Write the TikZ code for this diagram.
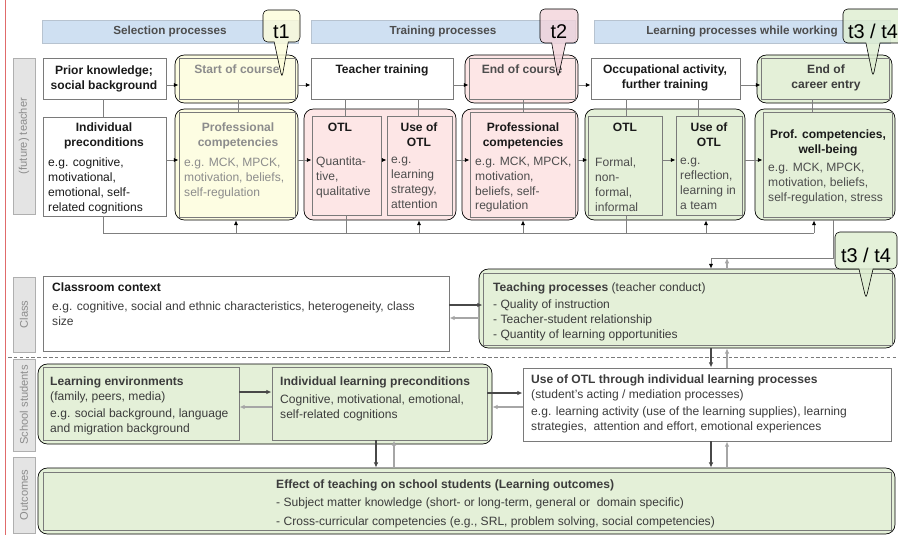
\documentclass[tikz,border=0pt]{standalone}
\usepackage{fontspec}
\setmainfont{Liberation Sans}
\usetikzlibrary{fit, arrows.meta, shapes.callouts}
\definecolor{hdrblue}{HTML}{CFE0F2}
\definecolor{yelfill}{HTML}{FDFDE2}
\definecolor{pinkfill}{HTML}{FDE6E6}
\definecolor{grnfill}{HTML}{E4F0D8}
\definecolor{stripgray}{HTML}{E4E4E4}
\definecolor{boxgray}{HTML}{7A7A7A}
\definecolor{linegray}{HTML}{7F7F7F}
\definecolor{backgray}{HTML}{A6A6A6}
\definecolor{txtdark}{HTML}{1A1A1A}
\definecolor{txtmid}{HTML}{4D4D4D}
\definecolor{txtpale}{HTML}{8C8C8C}
\definecolor{redline}{HTML}{E06B6B}
\definecolor{tonefill}{HTML}{FCFCD9}
\definecolor{ttwofill}{HTML}{F2D3DA}
\definecolor{tthreefill}{HTML}{DDEDD0}
\tikzset{
  lane/.style={draw=boxgray!60, fill=stripgray, line width=0.6pt, inner sep=0pt},
  lanetext/.style={rotate=90, text=txtpale, font=\fontsize{9.5}{11}\selectfont},
  hdr/.style={draw=hdrblue!70!gray, fill=hdrblue, line width=0.4pt, inner sep=0pt},
  hdrtext/.style={text=txtmid, font=\fontsize{10}{11}\selectfont\bfseries},
  box/.style={draw=boxgray, line width=0.8pt, inner sep=0pt},
  grp/.style={draw=black, line width=0.6pt, rounded corners=8pt, inner sep=0pt},
  ttl/.style={font=\bfseries, align=center, anchor=north, inner sep=0pt, text=txtdark},
  body/.style={align=left, anchor=north west, inner sep=0pt, text=txtmid},
  link/.style={draw=linegray, line width=0.8pt},
  flow/.style={link, -{Latex[length=4pt,width=3.6pt,color=black]}},
  push/.style={draw=txtdark!80, line width=0.9pt, -{Latex[length=4.5pt,width=4pt]}},
  back/.style={draw=backgray, line width=0.9pt, -{Latex[length=4.5pt,width=4pt]}},
  tmark/.style={rectangle callout, draw=black, line width=0.5pt, rounded corners=4pt,
    fill opacity=0.8, text opacity=1, inner sep=0pt, callout pointer width=12pt,
    font=\fontsize{17}{19}\selectfont, text height=21pt, text depth=0pt}
}
\begin{document}
\fontsize{10.3}{12.6}\selectfont
\begin{tikzpicture}[x=0.03cm, y=-0.03cm]
\useasboundingbox (0,0) rectangle (898,535);
\clip (0,0) rectangle (898,535);

% margin line
\draw[redline, line width=0.8pt] (5,0) -- (5,535);

% lanes on the left
\node[lane, fit={(13,58)(35,214)}] (laneT) {};
\node[lane, fit={(13,277)(35,352)}] (laneC) {};
\node[lane, fit={(13,359)(35,451)}] (laneS) {};
\node[lane, fit={(13,457)(35,533)}] (laneO) {};
\foreach \n/\t in {laneT/(future) teacher, laneC/Class, laneS/School students, laneO/Outcomes}
  \node[lanetext] (\n T) at (\n.center) {\t};

% phase headers
\node[hdr, fit={(42,20)(298,43)}] (hSel) {};
\node[hdr, fit={(311,20)(575,43)}] (hTrain) {};
\node[hdr, fit={(594,20)(890,43)}] (hWork) {};
\node[hdrtext] (hSelT) at (hSel.center) {Selection processes};
\node[hdrtext] (hTrainT) at (hTrain.center) {Training processes};
\node[hdrtext] (hWorkT) at (hWork.center) {Learning processes while working};

% separator teacher/class vs. students
\draw[boxgray, line width=0.6pt, dash pattern=on 3pt off 2pt] (8,357) -- (898,357);

% ---------------- teacher: top row ----------------
\node[box, fill=white, fit={(43,58)(166,99)}] (prior) {};
\node[grp, fill=yelfill, fit={(175,55)(298,103)}] (startG) {};
\node[box, fill=yelfill, fit={(179,58)(295,99)}] (start) {};
\node[box, fill=white, fit={(311,58)(453,99)}] (train) {};
\node[grp, fill=pinkfill, fit={(465,55)(578,103)}] (endG) {};
\node[box, fill=pinkfill, fit={(469,58)(575,99)}] (endc) {};
\node[box, fill=white, fit={(591,58)(740,99)}] (occup) {};
\node[grp, fill=grnfill, fit={(757,55)(892,103)}] (careerG) {};
\node[box, fill=grnfill, fit={(761,58)(889,99)}] (career) {};

\node[ttl] (priorT) at (104,66) {Prior knowledge;\\social background};
\node[ttl, text=txtpale] (startT) at (237,65) {Start of course};
\node[ttl] (trainT) at (382,65) {Teacher training};
\node[ttl, text=txtmid] (endcT) at (522,65) {End of course};
\node[ttl] (occupT) at (665,65) {Occupational activity,\\further training};
\node[ttl, text=txtdark!85] (careerT) at (826,65) {End of\\career entry};

% ---------------- teacher: second row ----------------
\node[box, fill=white, fit={(43,117)(166,216)}] (indiv) {};
\node[grp, fill=yelfill, fit={(175,109)(298,220)}] (profYG) {};
\node[box, fill=yelfill, fit={(179,112)(295,217)}] (profY) {};
\node[grp, fill=pinkfill, fit={(304,109)(456,220)}] (otlPG) {};
\node[box, fill=pinkfill, fit={(312,116)(381,215)}] (otlP) {};
\node[box, fill=pinkfill, fit={(387,116)(452,215)}] (useP) {};
\node[grp, fill=pinkfill, fit={(462,109)(578,220)}] (profPG) {};
\node[box, fill=pinkfill, fit={(470,112)(575,217)}] (profP) {};
\node[grp, fill=grnfill, fit={(585,109)(745,220)}] (otlGG) {};
\node[box, fill=grnfill, fit={(588,116)(662,215)}] (otlG) {};
\node[box, fill=grnfill, fit={(676,116)(742,215)}] (useG) {};
\node[grp, fill=grnfill, fit={(755,109)(895,220)}] (profWG) {};
\node[box, fill=grnfill, fit={(763,112)(892,217)}] (profW) {};

\node[ttl] (indivT) at (104,123) {Individual\\preconditions};
\node[body, text=txtdark] (indivB) at (48,158) {e.g. cognitive,\\motivational,\\emotional, self-\\related cognitions};
\node[ttl, text=txtpale] (profYT) at (238,123) {Professional\\competencies};
\node[body, text=txtpale] (profYB) at (184,158) {e.g. MCK, MPCK,\\motivation, beliefs,\\self-regulation};
\node[ttl] (otlPT) at (340,123) {OTL};
\node[body] (otlPB) at (316,157) {Quantita-\\tive,\\qualitative};
\node[ttl] (usePT) at (419,123) {Use of\\OTL};
\node[body] (usePB) at (391,157) {e.g.\\learning\\strategy,\\attention};
\node[ttl] (profPT) at (523,123) {Professional\\competencies};
\node[body] (profPB) at (475,157) {e.g. MCK, MPCK,\\motivation,\\beliefs, self-\\regulation};
\node[ttl] (otlGT) at (625,123) {OTL};
\node[body] (otlGB) at (595,158) {Formal,\\non-\\formal,\\informal};
\node[ttl] (useGT) at (709,123) {Use of\\OTL};
\node[body] (useGB) at (680,158) {e.g.\\reflection,\\learning in\\a team};
\node[ttl] (profWT) at (828,130) {Prof. competencies,\\well-being};
\node[body] (profWB) at (768,163) {e.g. MCK, MPCK,\\motivation, beliefs,\\self-regulation, stress};

% arrows along the rows
\foreach \a/\b in {prior/start, startG/train, train/endc, endG/occup, occup/career}
  \draw[flow] (\a.east |- 0,85) -- (\b.west |- 0,85);
\foreach \a/\b in {indiv/profY, profYG/otlP, otlP/useP, otlPG/profP, profPG/otlG, otlG/useG, otlGG/profW}
  \draw[flow] (\a.east |- 0,160) -- (\b.west |- 0,160);

% top row down to second row
\foreach \a/\b/\x in {prior/indiv/103, start/profY/238, train/otlP/345, train/useP/418,
    endc/profP/523, occup/otlG/626, occup/useG/698, career/profW/812}
  \draw[link] (\a.south -| \x,0) -- (\b.north -| \x,0);

% feedback line under the teacher rows
\draw[link] (indiv.south -| 103,0) -- (103,233) -- (814,233);
\draw[link] (otlP.south -| 346,0) -- (346,233);
\draw[link] (otlG.south -| 626,0) -- (626,233);
\foreach \n/\x in {profYG/236, otlPG/419, profPG/523, otlGG/706, profWG/814}
  \draw[flow] (\x,233) -- (\n.south -| \x,0);

% ---------------- class ----------------
\node[box, fill=white, fit={(43,276)(449,351)}] (klass) {};
\node[grp, fill=grnfill, fit={(479,269)(895,348)}] (teachG) {};
\node[box, fill=grnfill, fit={(483,273)(892,345)}] (teach) {};

\node[body, text=txtdark] (klassT) at (52,283) {\textbf{Classroom context}};
\node[body, text=txtdark!85] (klassB) at (52,302) {e.g. cognitive, social and ethnic characteristics, heterogeneity, class\\size};
\node[body, text=txtdark!85] (teachT) at (493,283) {\textbf{Teaching processes} (teacher conduct)};
\node[body, text=txtdark!85] (teachB) at (493,300) {- Quality of instruction\\- Teacher-student relationship\\- Quantity of learning opportunities};

\coordinate (bend) at (711,258);
\draw[flow] (profWG.south -| 833,0) |- (bend) -- (teachG.north -| bend);
\draw[back] (teachG.north -| 727,0) -- (727,258);
\draw[push] (klass.east |- 0,305) -- (teach.west |- 0,305);
\draw[back] (teachG.west |- 0,318) -- (klass.east |- 0,318);

% ---------------- school students ----------------
\node[grp, fill=grnfill, fit={(38,364)(492,444)}] (schoolG) {};
\node[box, fill=grnfill, fit={(43,367)(239,440)}] (lenv) {};
\node[box, fill=grnfill, fit={(272,367)(487,440)}] (ilp) {};
\node[box, fill=white, fit={(523,368)(891,441)}] (useL) {};

\node[body, text=txtdark!85] (lenvT) at (50,377) {\textbf{Learning environments}\\(family, peers, media)};
\node[body, text=txtdark!85] (lenvB) at (50,409) {e.g. social background, language\\and migration background};
\node[body, text=txtdark!85] (ilpT) at (280,377) {\textbf{Individual learning preconditions}};
\node[body, text=txtdark!85] (ilpB) at (280,395) {Cognitive, motivational, emotional,\\self-related cognitions};
\node[body, text=txtdark!85] (useLT) at (531,375) {\textbf{Use of OTL through individual learning processes}\\(student’s acting / mediation processes)};
\node[body, text=txtdark!85] (useLB) at (531,407) {e.g. learning activity (use of the learning supplies), learning\\strategies,\ \ attention and effort, emotional experiences};

\draw[push] (teachG.south -| 711,0) -- (useL.north -| 711,0);
\draw[back] (useL.north -| 727,0) -- (teachG.south -| 727,0);
\draw[push] (lenv.east |- 0,392) -- (ilp.west |- 0,392);
\draw[back] (ilp.west |- 0,407) -- (lenv.east |- 0,407);
\draw[push] (ilp.east |- 0,393) -- (useL.west |- 0,393);
\draw[back] (useL.west |- 0,407) -- (schoolG.east |- 0,407);

% ---------------- outcomes ----------------
\node[grp, fill=grnfill, fit={(38,468)(895,534)}] (effectG) {};
\node[box, fill=grnfill, fit={(43,472)(891,530)}] (effect) {};
\node[body, text=txtdark!85] (effectT) at (276,480) {\textbf{Effect of teaching on school students (Learning outcomes)}};
\node[body, text=txtdark!85] (effectB) at (276,498) {- Subject matter knowledge (short- or long-term, general or\ \ domain specific)\\[3.5pt]- Cross-curricular competencies (e.g., SRL, problem solving, social competencies)};

\draw[push] (ilp.south -| 376,0) -- (effectG.north -| 376,0);
\draw[back] (effectG.north -| 394,0) -- (ilp.south -| 394,0);
\draw[push] (useL.south -| 711,0) -- (effectG.north -| 711,0);
\draw[back] (effectG.north -| 727,0) -- (useL.south -| 727,0);

% measurement points
\node[tmark, fill=tonefill, minimum width=1.11cm, minimum height=0.96cm,
  callout absolute pointer={(282,78)}] (tOne) at (281.5,26) {t1};
\node[tmark, fill=ttwofill, minimum width=1.14cm, minimum height=1.02cm,
  callout absolute pointer={(558,78)}] (tTwo) at (559,26) {t2};
\node[tmark, fill=tthreefill, minimum width=1.8cm, minimum height=1.02cm,
  callout absolute pointer={(873,77)}] (tThree) at (873,26) {t3 / t4};
\node[tmark, fill=tthreefill, minimum width=1.86cm, minimum height=1.11cm,
  callout absolute pointer={(866,299)}] (tFour) at (866,250.5) {t3 / t4};

\end{tikzpicture}
\end{document}
